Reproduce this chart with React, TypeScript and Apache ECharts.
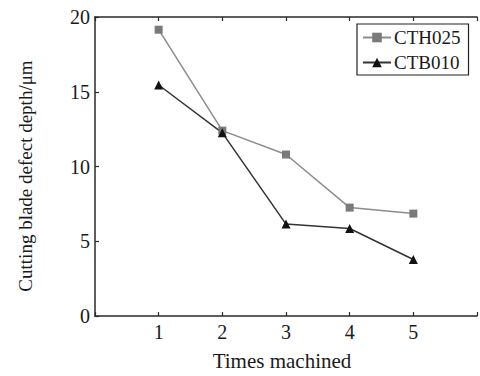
import React, { useEffect, useRef } from "react";
import * as echarts from "echarts";

const times = [1, 2, 3, 4, 5];
const cth025 = [19.15, 12.4, 10.8, 7.25, 6.85];
const ctb010 = [15.45, 12.25, 6.15, 5.85, 3.78];
const seriesNames = ["CTH025", "CTB010"];
const xTitle = "Times machined";
const yTitle = "Cutting blade defect depth/μm";

const FONT = "'Liberation Serif', 'Times New Roman', serif";
const TXT = "#1a1a1a";
const AX = "#2a2a2a";

export default function App() {
  const ref = useRef<HTMLDivElement>(null);
  useEffect(() => {
    if (!ref.current) return;
    const chart = echarts.init(ref.current, null, { renderer: "svg" });
    const axisCommon = {
      axisLine: { show: true, lineStyle: { color: AX, width: 1.5 } },
      axisTick: { show: true, inside: true, length: 4, lineStyle: { color: AX, width: 1.2 } },
      splitLine: { show: false },
    };
    chart.setOption({
      animation: false,
      backgroundColor: "#fff",
      textStyle: { fontFamily: FONT },
      grid: { left: 95, top: 17, width: 392, height: 305.5 },
      graphic: [
        {
          type: "text",
          x: 25,
          y: 176,
          rotation: Math.PI / 2,
          style: {
            text: yTitle,
            fontFamily: FONT,
            fontSize: 19,
            fill: TXT,
            align: "center",
            verticalAlign: "middle",
          },
        },
      ],
      legend: {
        orient: "vertical",
        left: 357,
        top: 24,
        data: seriesNames,
        itemWidth: 28,
        itemHeight: 12,
        itemGap: 6,
        padding: [4, 8, 3, 5],
        borderColor: "#222",
        borderWidth: 1.2,
        textStyle: { fontFamily: FONT, fontSize: 19, color: TXT, padding: [0, 0, 0, -2] },
      },
      xAxis: [
        {
          type: "value",
          min: 0,
          max: 6,
          interval: 1,
          name: xTitle,
          nameLocation: "middle",
          nameGap: 34,
          nameTextStyle: { fontFamily: FONT, fontSize: 21, color: TXT, padding: [0, 8, 0, 0] },
          axisLabel: {
            fontFamily: FONT,
            fontSize: 20,
            color: TXT,
            margin: 6,
            formatter: (v: number) => (v >= 1 && v <= 5 ? String(v) : ""),
          },
          ...axisCommon,
        },
        {
          type: "value",
          position: "top",
          min: 0,
          max: 6,
          interval: 1,
          axisLabel: { show: false },
          ...axisCommon,
        },
      ],
      yAxis: [
        {
          type: "value",
          min: 0,
          max: 20,
          interval: 5,
          axisLabel: { fontFamily: FONT, fontSize: 20, color: TXT, margin: 5 },
          ...axisCommon,
        },
      ],
      series: [
        {
          name: seriesNames[0],
          type: "line",
          data: times.map((t, i) => [t, cth025[i]]),
          symbol: "rect",
          symbolSize: 8,
          itemStyle: { color: "#7a7a7a" },
          lineStyle: { color: "#8c8c8c", width: 1.5 },
        },
        {
          name: seriesNames[1],
          type: "line",
          data: times.map((t, i) => [t, ctb010[i]]),
          symbol: "triangle",
          symbolSize: 9,
          itemStyle: { color: "#111" },
          lineStyle: { color: "#333", width: 1.5 },
        },
      ],
    });
    return () => chart.dispose();
  }, []);
  return (
    <div
      ref={ref}
      style={{
        position: "fixed",
        left: 0,
        top: 0,
        width: 480,
        height: 376,
        overflow: "hidden",
        background: "#fff",
      }}
    />
  );
}
